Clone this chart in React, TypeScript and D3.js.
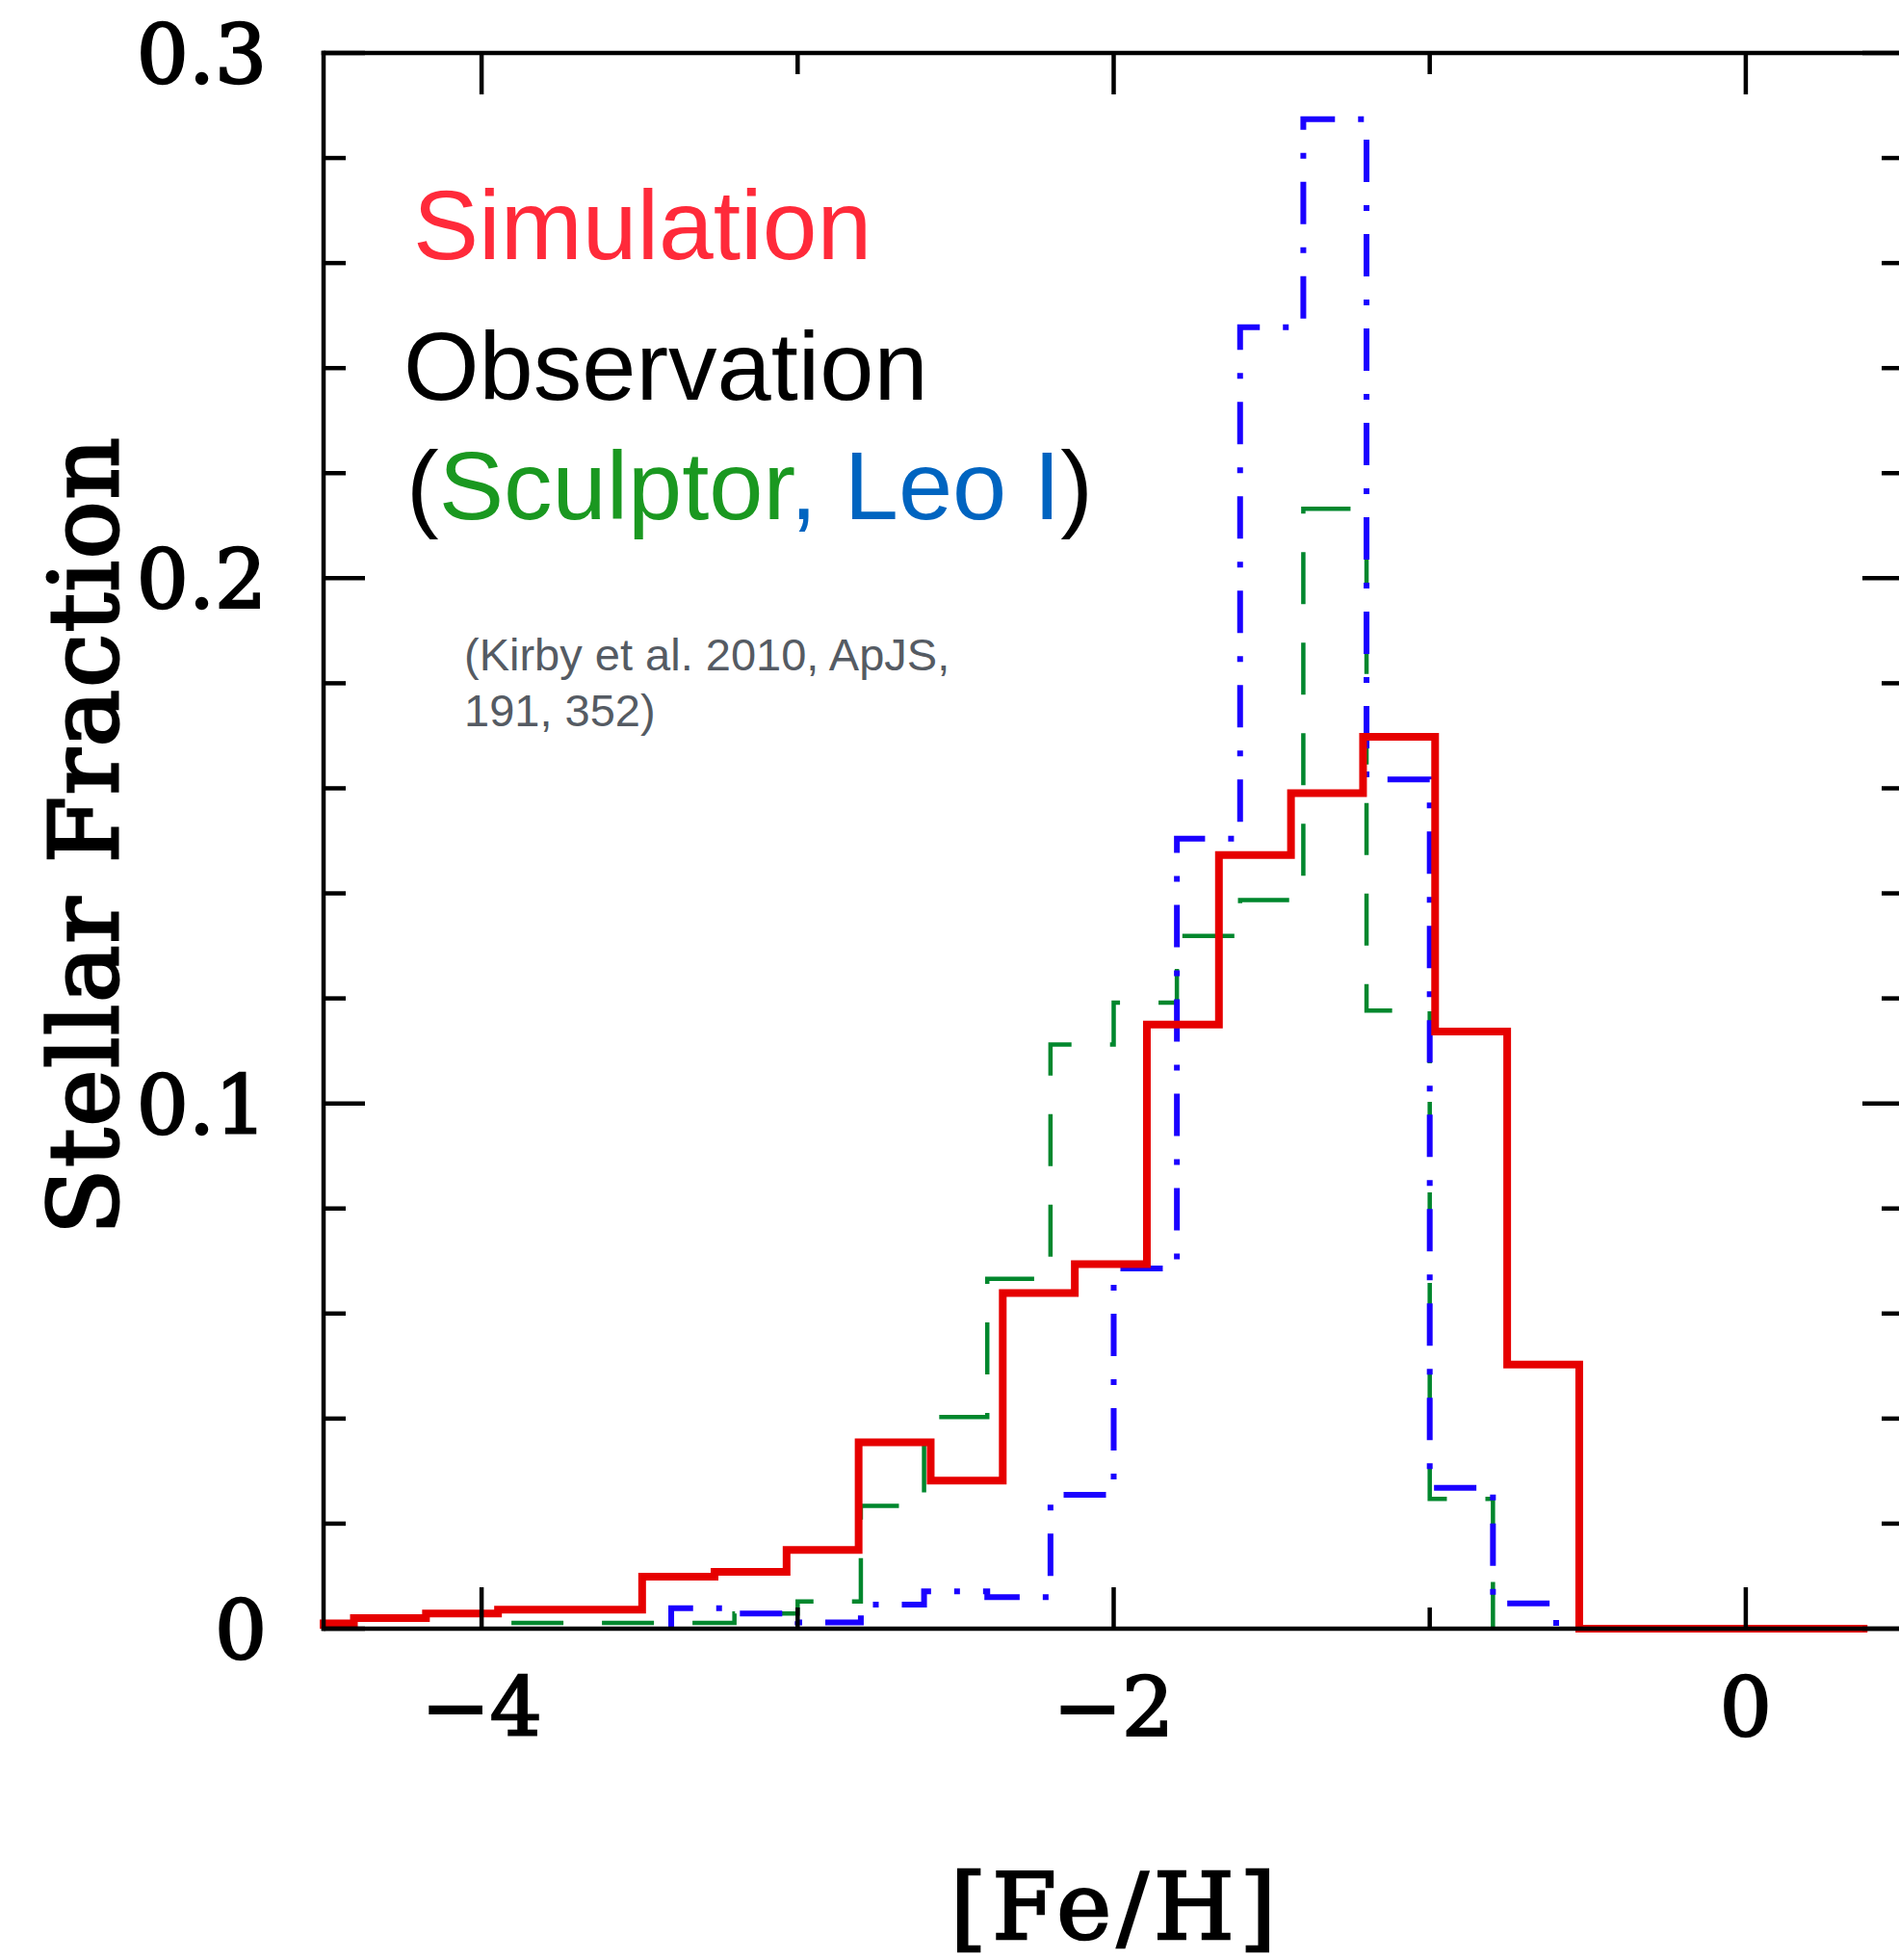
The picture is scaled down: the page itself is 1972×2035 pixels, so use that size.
import React from 'react';
import * as d3 from 'd3';

// ---- data ----
// Simulation histogram (bin edges in [Fe/H], stellar fraction per bin)
const simEdges = [-4.5, -4.404, -4.176, -3.948, -3.72, -3.492, -3.263, -3.035, -2.807, -2.579, -2.351, -2.123, -1.895, -1.667, -1.439, -1.211, -0.983, -0.755, -0.527, -0.299, -0.071, 0.157, 0.385];
const simValues = [0.001, 0.002, 0.0029, 0.0036, 0.0036, 0.0099, 0.0108, 0.015, 0.0355, 0.0282, 0.0639, 0.0694, 0.115, 0.1473, 0.1591, 0.1698, 0.1137, 0.0503, 0, 0, 0, 0];

// Sculptor (Kirby et al. 2010)
const sclEdges = [-4.0, -3.8, -3.6, -3.4, -3.2, -3.0, -2.8, -2.6, -2.4, -2.2, -2.0, -1.8, -1.6, -1.4, -1.2, -1.0, -0.8];
const sclValues = [0.0011, 0.0011, 0.0011, 0.0011, 0.0029, 0.0052, 0.0234, 0.0403, 0.0666, 0.1112, 0.1192, 0.1319, 0.1387, 0.2132, 0.1177, 0.0247];

// Leo I (Kirby et al. 2010)
const leoEdges = [-3.4, -3.2, -3.0, -2.8, -2.6, -2.4, -2.2, -2.0, -1.8, -1.6, -1.4, -1.2, -1.0, -0.8, -0.6];
const leoValues = [0.0039, 0.0029, 0.0012, 0.0046, 0.0071, 0.006, 0.0255, 0.0686, 0.1504, 0.2478, 0.2874, 0.1617, 0.0268, 0.0048];

const xMajorTicks = [-4, -2, 0];
const xMinorTicks = [-3, -1];
const xTickLabels = ['\u22124', '\u22122', '0'];
const yMajorTicks = [0, 0.1, 0.2, 0.3];
const yMinorTicks = [0.02, 0.04, 0.06, 0.08, 0.12, 0.14, 0.16, 0.18, 0.22, 0.24, 0.26, 0.28];
const yTickLabels = ['0', '0.1', '0.2', '0.3'];

const W = 1972;
const H = 2035;

const x = d3.scaleLinear().domain([-4.5, 0.5]).range([336, 1977]);
const y = d3.scaleLinear().domain([0, 0.3]).range([1691, 55]);

const line = d3
  .line<[number, number]>()
  .x((d) => x(d[0]))
  .y((d) => y(d[1]))
  .curve(d3.curveStepAfter);

function stepPath(edges: number[], values: number[]): string {
  const pts: [number, number][] = [[edges[0], 0]];
  values.forEach((v, i) => pts.push([edges[i], v]));
  pts.push([edges[edges.length - 1], 0]);
  return line(pts) || '';
}

const SERIF = "'DejaVu Serif', 'Liberation Serif', serif";
const SANS = "'Liberation Sans', Arial, Helvetica, sans-serif";

export default function App() {
  const [x0, x1] = x.range();
  const [yb, yt] = y.range();
  const majLen = 43;
  const minLen = 23;
  const axisW = 4.5;
  return (
    <div style={{ position: 'absolute', left: 0, top: 0 }}>
      <svg width={W} height={H} viewBox={`0 0 ${W} ${H}`} style={{ display: 'block', background: '#fff' }}>
        <rect x={0} y={0} width={W} height={H} fill="#fff" />
        {/* histograms */}
        <path d={stepPath(sclEdges, sclValues)} fill="none" stroke="#00872d" strokeWidth={4.5} strokeDasharray="54 40" strokeDashoffset={57} />
        <path d={stepPath(leoEdges, leoValues)} fill="none" stroke="#1a00ff" strokeWidth={6} strokeDasharray="44 24 6 24" />
        <path d={stepPath(simEdges, simValues)} fill="none" stroke="#e60000" strokeWidth={8} strokeLinejoin="miter" />

        {/* frame */}
        <g stroke="#000" strokeWidth={axisW} fill="none" strokeLinecap="square">
          <line x1={x0} x2={x1} y1={yb} y2={yb} />
          <line x1={x0} x2={x1} y1={yt} y2={yt} />
          <line x1={x0} x2={x0} y1={yb} y2={yt} />
          <line x1={x1} x2={x1} y1={yb} y2={yt} />
        </g>
        {/* ticks */}
        <g stroke="#000" strokeWidth={4.5}>
          {xMajorTicks.map((t) => (
            <g key={'xM' + t}>
              <line x1={x(t)} x2={x(t)} y1={yb} y2={yb - majLen} />
              <line x1={x(t)} x2={x(t)} y1={yt} y2={yt + majLen} />
            </g>
          ))}
          {xMinorTicks.map((t) => (
            <g key={'xm' + t}>
              <line x1={x(t)} x2={x(t)} y1={yb} y2={yb - minLen + 1} />
              <line x1={x(t)} x2={x(t)} y1={yt} y2={yt + minLen - 1} />
            </g>
          ))}
          {yMajorTicks.map((t) => (
            <g key={'yM' + t}>
              <line x1={x0} x2={x0 + majLen} y1={y(t)} y2={y(t)} />
              <line x1={x1} x2={x1 - majLen} y1={y(t)} y2={y(t)} />
            </g>
          ))}
          {yMinorTicks.map((t) => (
            <g key={'ym' + t}>
              <line x1={x0} x2={x0 + minLen} y1={y(t)} y2={y(t)} />
              <line x1={x1} x2={x1 - minLen} y1={y(t)} y2={y(t)} />
            </g>
          ))}
        </g>

        {/* tick labels */}
        <g fontFamily={SERIF} fontSize={85} fill="#000" stroke="#000" strokeWidth={2.4}>
          {yMajorTicks.map((t, i) => (
            <text key={'yl' + t} x={277} y={y(t) + 31} textAnchor="end">
              {yTickLabels[i]}
            </text>
          ))}
          {xMajorTicks.map((t, i) => (
            <text key={'xl' + t} x={x(t)} y={1802} textAnchor="middle">
              {xTickLabels[i]}
            </text>
          ))}
        </g>

        {/* axis titles */}
        <text
          transform="translate(122, 868) rotate(-90)"
          textAnchor="middle"
          fontFamily={SERIF}
          fontSize={100}
          fill="#000"
          stroke="#000"
          strokeWidth={3}
          textLength={828}
          lengthAdjust="spacing"
        >
          Stellar Fraction
        </text>
        <text
          x={1156}
          y={2013}
          textAnchor="middle"
          fontFamily={SERIF}
          fontSize={96}
          fill="#000"
          stroke="#000"
          strokeWidth={2.6}
          textLength={338}
          lengthAdjust="spacing"
        >
          [Fe/H]
        </text>

        {/* annotations */}
        <g fontFamily={SANS}>
          <text x={429} y={269} fontSize={102} fill="#ff2a3a">Simulation</text>
          <text x={419} y={415} fontSize={101} fill="#000">Observation</text>
          <text x={422} y={539} fontSize={101} fill="#000">
            (<tspan fill="#1a9820">Sculptor</tspan>
            <tspan fill="#0064c0">, Leo I</tspan>)
          </text>
          <text x={482} y={696} fontSize={47} fill="#555b63">(Kirby et al. 2010, ApJS,</text>
          <text x={482} y={754} fontSize={47} fill="#555b63">191, 352)</text>
        </g>
      </svg>
    </div>
  );
}
